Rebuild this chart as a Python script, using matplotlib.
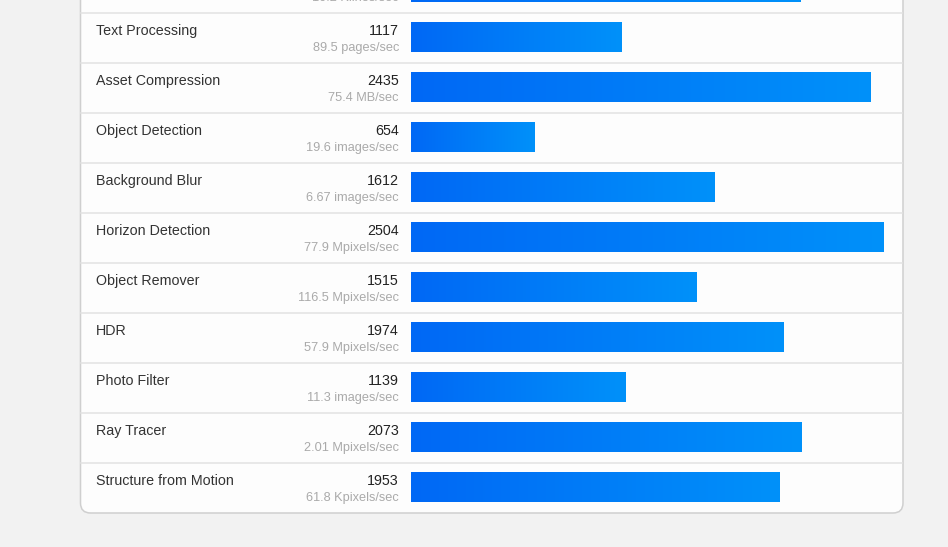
import numpy as np
import matplotlib.pyplot as plt
from matplotlib.patches import FancyBboxPatch
from matplotlib.colors import LinearSegmentedColormap

plt.rcParams['font.family'] = ['Liberation Sans', 'DejaVu Sans']

# данные: название теста, баллы и производительность
names = ['Clang', 'Text Processing', 'Asset Compression', 'Object Detection',
         'Background Blur', 'Horizon Detection', 'Object Remover', 'HDR',
         'Photo Filter', 'Ray Tracer', 'Structure from Motion']
scores = [2064, 1117, 2435, 654, 1612, 2504, 1515, 1974, 1139, 2073, 1953]
rates = ['10.2 Klines/sec', '89.5 pages/sec', '75.4 MB/sec', '19.6 images/sec',
         '6.67 images/sec', '77.9 Mpixels/sec', '116.5 Mpixels/sec',
         '57.9 Mpixels/sec', '11.3 images/sec', '2.01 Mpixels/sec',
         '61.8 Kpixels/sec']
x_max = 2525  # полная ширина дорожки столбика

W, H = 948, 547
fig = plt.figure(figsize=(W / 100, H / 100), dpi=100)
fig.patch.set_facecolor('#f2f2f2')

# фон-панель в пиксельных координатах
bg = fig.add_axes([0, 0, 1, 1])
bg.set_xlim(0, W)
bg.set_ylim(H, 0)
bg.axis('off')
panel = FancyBboxPatch((80.5, -60), 822.5, 573, boxstyle='round,pad=0,rounding_size=10',
                       facecolor='#fdfdfd', edgecolor='#cfcfcf', lw=1.1, zorder=1)
bg.add_patch(panel)

# строки: строка k занимает пиксели 13+50*(k-1) .. 13+50*k
y0 = -12
for k in range(len(names)):
    yc = y0 + 50 * k
    if k < len(names) - 1:
        bg.plot([81, 902], [yc + 25, yc + 25], color='#e2e2e2', lw=1.1, zorder=2)
    bg.text(96, yc - 7, names[k], fontsize=10.3, color='#333333', va='center', ha='left', zorder=3)
    bg.text(399, yc - 7, str(scores[k]), fontsize=10.3, color='#222222', va='center', ha='right', zorder=3)
    bg.text(399, yc + 10, rates[k], fontsize=9.2, color='#aaaaaa', va='center', ha='right', zorder=3)

# оси для столбиков: шкала по баллам
ax = fig.add_axes([411 / W, 0, 476 / W, 1])
ax.axis('off')
ax.patch.set_alpha(0)

cmap = LinearSegmentedColormap.from_list('bl', ['#0068f5', '#0091fa'])
grad = np.linspace(0, 1, 256).reshape(1, -1)
bars = ax.barh(np.arange(len(names)) - 0.02, scores, height=0.6, color='none', zorder=3)
for b, s in zip(bars, scores):
    y = b.get_y()
    im = ax.imshow(grad, cmap=cmap, aspect='auto', extent=(0, s, y + b.get_height(), y),
                   zorder=3, interpolation='bicubic')
    im.set_clip_path(b)

ax.set_xlim(0, x_max)
ax.set_ylim((H - y0) / 50, (0 - y0) / 50)

fig.savefig('out.png', dpi=100, facecolor=fig.get_facecolor())
